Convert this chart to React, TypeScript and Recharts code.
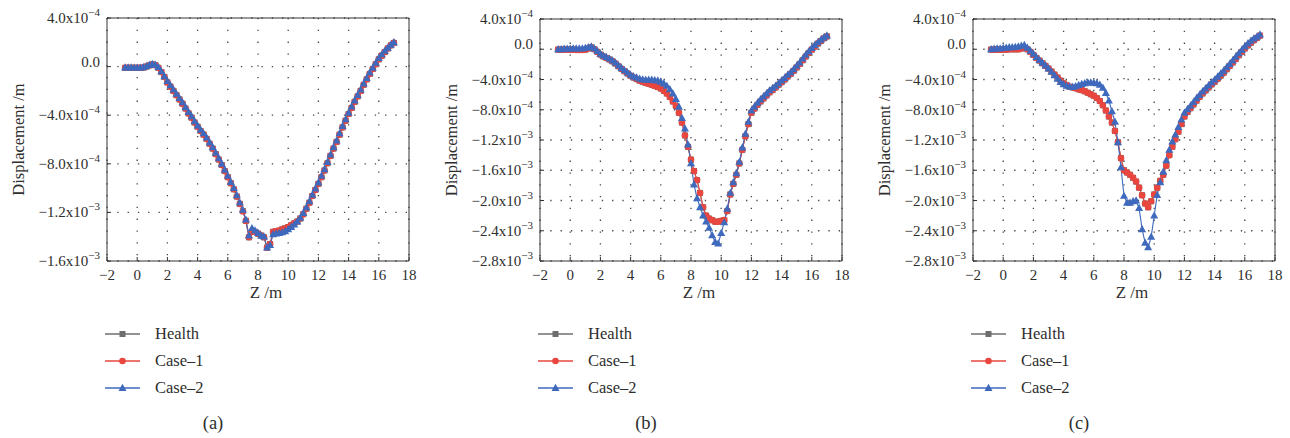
import { LineChart, Line, XAxis, YAxis, CartesianGrid, ReferenceLine, Legend } from 'recharts'

// Z positions (m) of the sampled points, shared by all three panels
const Z = [
  -0.8, -0.6, -0.4, -0.2,
  0, 0.2, 0.4, 0.6, 0.8,
  1, 1.2, 1.4, 1.6, 1.8,
  2, 2.2, 2.4, 2.6, 2.8,
  3, 3.2, 3.4, 3.6, 3.8,
  4, 4.2, 4.4, 4.6, 4.8,
  5, 5.2, 5.4, 5.6, 5.8,
  6, 6.2, 6.4, 6.6, 6.8,
  7, 7.2, 7.4, 7.6, 7.8,
  8, 8.2, 8.4, 8.6, 8.8,
  9, 9.2, 9.4, 9.6, 9.8,
  10, 10.2, 10.4, 10.6, 10.8,
  11, 11.2, 11.4, 11.6, 11.8,
  12, 12.2, 12.4, 12.6, 12.8,
  13, 13.2, 13.4, 13.6, 13.8,
  14, 14.2, 14.4, 14.6, 14.8,
  15, 15.2, 15.4, 15.6, 15.8,
  16, 16.2, 16.4, 16.6, 16.8,
  17,
]

// displacement values, in units of 1e-4 m

// (a)
const healthA = [
  -0.1, -0.1, -0.1, -0.1,
  -0.1, -0.1, -0.08, 0, 0.1,
  0.18, 0.12, -0.1, -0.45, -0.85,
  -1.3, -1.65, -2, -2.35, -2.7,
  -3.05, -3.45, -3.85, -4.2, -4.6,
  -4.95, -5.3, -5.6, -5.95, -6.35,
  -6.75, -7.2, -7.65, -8.1, -8.6,
  -9.1, -9.6, -10.1, -10.7, -11.3,
  -11.9, -12.7, -14.05, -13.6, -13.6,
  -13.75, -13.9, -14.05, -14.9, -14.6,
  -13.6, -13.55, -13.5, -13.4, -13.3,
  -13.2, -13.05, -12.9, -12.75, -12.5,
  -12.15, -11.7, -11.2, -10.65, -10.15,
  -9.65, -9.1, -8.55, -7.95, -7.35,
  -6.75, -6.2, -5.6, -5, -4.45,
  -3.9, -3.4, -2.9, -2.45, -2,
  -1.5, -1.05, -0.6, -0.2, 0.2,
  0.6, 0.9, 1.2, 1.5, 1.75,
  1.95,
]
const caseOneA = [
  -0.1, -0.1, -0.1, -0.1,
  -0.1, -0.1, -0.08, 0, 0.1,
  0.18, 0.12, -0.1, -0.45, -0.85,
  -1.3, -1.65, -2, -2.35, -2.7,
  -3.05, -3.45, -3.85, -4.2, -4.6,
  -4.95, -5.3, -5.6, -5.95, -6.35,
  -6.75, -7.2, -7.65, -8.1, -8.6,
  -9.1, -9.6, -10.1, -10.7, -11.3,
  -11.9, -12.7, -14.05, -13.6, -13.6,
  -13.75, -13.9, -14.05, -14.9, -14.6,
  -13.6, -13.55, -13.5, -13.4, -13.3,
  -13.2, -13.05, -12.9, -12.75, -12.5,
  -12.15, -11.7, -11.2, -10.65, -10.15,
  -9.65, -9.1, -8.55, -7.95, -7.35,
  -6.75, -6.2, -5.6, -5, -4.45,
  -3.9, -3.4, -2.9, -2.45, -2,
  -1.5, -1.05, -0.6, -0.2, 0.2,
  0.6, 0.9, 1.2, 1.5, 1.75,
  1.95,
]
const caseTwoA = [
  -0.08, -0.08, -0.08, -0.09,
  -0.09, -0.09, -0.06, 0.02, 0.12,
  0.2, 0.15, -0.05, -0.4, -0.8,
  -1.2, -1.55, -1.9, -2.25, -2.6,
  -2.95, -3.35, -3.75, -4.1, -4.5,
  -4.85, -5.2, -5.5, -5.85, -6.25,
  -6.65, -7.1, -7.55, -8, -8.5,
  -9, -9.5, -10, -10.6, -11.2,
  -11.8, -12.6, -13.9, -13.3, -13.5,
  -13.7, -13.9, -14, -14.9, -14.7,
  -13.8, -13.75, -13.7, -13.65, -13.55,
  -13.4, -13.2, -13, -12.75, -12.45,
  -12.05, -11.6, -11.1, -10.55, -10.05,
  -9.55, -9, -8.45, -7.85, -7.25,
  -6.65, -6.1, -5.5, -4.9, -4.35,
  -3.8, -3.3, -2.8, -2.35, -1.9,
  -1.4, -0.95, -0.5, -0.1, 0.3,
  0.7, 1, 1.3, 1.55, 1.8,
  2,
]

// (b)
const healthB = [
  -0.05, -0.05, -0.05, -0.05,
  -0.05, -0.05, -0.1, -0.1, -0.1,
  -0.05, 0.1, 0.25, 0, -0.35,
  -0.7, -0.95, -1.15, -1.35, -1.6,
  -1.9, -2.25, -2.6, -2.9, -3.2,
  -3.5, -3.75, -3.95, -4.15, -4.3,
  -4.45, -4.55, -4.7, -4.85, -5,
  -5.2, -5.5, -5.85, -6.3, -6.9,
  -7.5, -8.4, -9.7, -11.4, -12.9,
  -14.6, -16.1, -17.3, -19, -20.9,
  -22, -22.4, -22.6, -22.8, -22.8,
  -22.7, -22.6, -21.4, -19.2, -17.8,
  -16.6, -15.1, -13.3, -11.5, -9.9,
  -8.4, -7.85, -7.35, -6.9, -6.5,
  -6.1, -5.7, -5.4, -5.05, -4.7,
  -4.35, -4, -3.6, -3.25, -2.85,
  -2.4, -1.95, -1.45, -0.95, -0.5,
  -0.05, 0.35, 0.75, 1.1, 1.45,
  1.7,
]
const caseOneB = [
  -0.05, -0.05, -0.05, -0.05,
  -0.05, -0.05, -0.1, -0.1, -0.1,
  -0.05, 0.1, 0.25, 0, -0.35,
  -0.7, -0.95, -1.15, -1.35, -1.6,
  -1.9, -2.25, -2.6, -2.9, -3.2,
  -3.5, -3.75, -3.95, -4.15, -4.3,
  -4.45, -4.55, -4.7, -4.85, -5,
  -5.2, -5.5, -5.85, -6.3, -6.9,
  -7.5, -8.4, -9.7, -11.4, -12.9,
  -14.6, -16.1, -17.3, -19, -20.9,
  -22, -22.4, -22.6, -22.8, -22.8,
  -22.7, -22.6, -21.4, -19.2, -17.8,
  -16.6, -15.1, -13.3, -11.5, -9.9,
  -8.4, -7.85, -7.35, -6.9, -6.5,
  -6.1, -5.7, -5.4, -5.05, -4.7,
  -4.35, -4, -3.6, -3.25, -2.85,
  -2.4, -1.95, -1.45, -0.95, -0.5,
  -0.05, 0.35, 0.75, 1.1, 1.45,
  1.7,
]
const caseTwoB = [
  0, 0, 0.05, 0.05,
  0.05, 0.1, 0.1, 0.1, 0.1,
  0.15, 0.25, 0.35, 0.1, -0.25,
  -0.6, -0.85, -1.05, -1.25, -1.5,
  -1.8, -2.15, -2.5, -2.8, -3.1,
  -3.4, -3.6, -3.75, -3.9, -4,
  -4.05, -4.05, -4.05, -4.1, -4.15,
  -4.3, -4.55, -4.85, -5.3, -5.85,
  -6.6, -7.6, -9.1, -10.5, -12.6,
  -15.1, -17.9, -19.7, -20.9, -22,
  -22.8, -23.6, -24.6, -25.5, -25.7,
  -24.3, -22.9, -21.1, -19, -17.6,
  -16.4, -14.9, -13, -11.2, -9.6,
  -8.1, -7.6, -7.1, -6.65, -6.25,
  -5.85, -5.45, -5.15, -4.85, -4.5,
  -4.15, -3.8, -3.4, -3.05, -2.65,
  -2.2, -1.75, -1.25, -0.75, -0.3,
  0.15, 0.55, 0.9, 1.25, 1.55,
  1.8,
]

// (c)
const healthC = [
  -0.05, -0.05, -0.05, -0.05,
  -0.05, -0.05, 0, 0, 0,
  0, 0.1, 0.2, 0, -0.35,
  -0.75, -1.15, -1.5, -1.85, -2.2,
  -2.55, -2.95, -3.35, -3.75, -4.15,
  -4.5, -4.75, -4.95, -5.05, -5.15,
  -5.3, -5.4, -5.55, -5.75, -5.95,
  -6.15, -6.45, -6.85, -7.4, -8.1,
  -8.9, -9.7, -10.8, -12.3, -14.4,
  -16, -16.3, -16.6, -17, -17.5,
  -18.3, -19.3, -20.4, -20.9, -20.1,
  -19.2, -18.3, -17.4, -16.6, -15.4,
  -14, -12.9, -11.9, -10.9, -9.9,
  -8.9, -8.3, -7.8, -7.3, -6.8,
  -6.3, -5.85, -5.45, -5.05, -4.65,
  -4.3, -3.9, -3.5, -3.1, -2.65,
  -2.2, -1.75, -1.3, -0.8, -0.35,
  0.1, 0.5, 0.85, 1.2, 1.5,
  1.8,
]
const caseOneC = [
  -0.05, -0.05, -0.05, -0.05,
  -0.05, -0.05, 0, 0, 0,
  0, 0.1, 0.2, 0, -0.35,
  -0.75, -1.15, -1.5, -1.85, -2.2,
  -2.55, -2.95, -3.35, -3.75, -4.15,
  -4.5, -4.75, -4.95, -5.05, -5.15,
  -5.3, -5.4, -5.55, -5.75, -5.95,
  -6.15, -6.45, -6.85, -7.4, -8.1,
  -8.9, -9.7, -10.8, -12.3, -14.4,
  -16, -16.3, -16.6, -17, -17.5,
  -18.3, -19.3, -20.4, -20.9, -20.1,
  -19.2, -18.3, -17.4, -16.6, -15.4,
  -14, -12.9, -11.9, -10.9, -9.9,
  -8.9, -8.3, -7.8, -7.3, -6.8,
  -6.3, -5.85, -5.45, -5.05, -4.65,
  -4.3, -3.9, -3.5, -3.1, -2.65,
  -2.2, -1.75, -1.3, -0.8, -0.35,
  0.1, 0.5, 0.85, 1.2, 1.5,
  1.8,
]
const caseTwoC = [
  0, 0.05, 0.1, 0.1,
  0.15, 0.2, 0.25, 0.25, 0.3,
  0.35, 0.45, 0.55, 0.2, -0.2,
  -0.6, -1.05, -1.45, -1.8, -2.15,
  -2.55, -3, -3.45, -3.9, -4.35,
  -4.65, -4.85, -4.95, -5, -4.9,
  -4.75, -4.6, -4.5, -4.4, -4.4,
  -4.45, -4.5, -4.7, -5.1, -5.8,
  -6.8, -8.2, -9.6, -12.3, -15.6,
  -19.4, -20.3, -20.3, -20.1, -20,
  -21, -23.8, -25.6, -26.2, -24.8,
  -22, -19.3, -17.6, -16.2, -14.7,
  -13.3, -12.2, -11.3, -10.3, -9.3,
  -8.4, -7.95, -7.5, -7, -6.5,
  -6.05, -5.6, -5.2, -4.8, -4.4,
  -4.05, -3.65, -3.25, -2.85, -2.4,
  -1.95, -1.5, -1, -0.55, -0.1,
  0.35, 0.75, 1.1, 1.4, 1.65,
  1.95,
]

const X_TICKS = [-2, 0, 2, 4, 6, 8, 10, 12, 14, 16, 18]
const Y_TICKS_A = [-16, -12, -8, -4, 0, 4]
const Y_TICKS_BC = [-28, -24, -20, -16, -12, -8, -4, 0, 4]
const CAPTIONS = ['(a)', '(b)', '(c)']

const FONT = '"Liberation Serif", "DejaVu Serif", serif'
const TEXT = '#2e2e2e'
const AXIS = '#333'
const GRAY = '#6e6e6e'
const RED = '#e8463f'
const BLUE = '#3e69bd'

const SERIES = [
  { key: 'health', name: 'Health', color: GRAY },
  { key: 'case1', name: 'Case–1', color: RED },
  { key: 'case2', name: 'Case–2', color: BLUE },
]

const buildRows = (health: number[], c1: number[], c2: number[]) =>
  Z.map((z, i) => ({ z, health: health[i], case1: c1[i], case2: c2[i] }))

const PANELS = [
  { left: 0, top: 18, rows: buildRows(healthA, caseOneA, caseTwoA), yTicks: Y_TICKS_A },
  { left: 433, top: 19, rows: buildRows(healthB, caseOneB, caseTwoB), yTicks: Y_TICKS_BC },
  { left: 866, top: 19, rows: buildRows(healthC, caseOneC, caseTwoC), yTicks: Y_TICKS_BC },
]

const marker = (key: string, cx: number, cy: number, k?: any) => {
  if (key === 'health') {
    return <rect key={k} x={cx - 3} y={cy - 3} width={6} height={6} fill={GRAY} />
  }
  if (key === 'case1') {
    return <circle key={k} cx={cx} cy={cy} r={3.3} fill={RED} />
  }
  return (
    <polygon
      key={k}
      points={`${cx},${cy - 4.3} ${cx - 4},${cy + 2.9} ${cx + 4},${cy + 2.9}`}
      fill={BLUE}
    />
  )
}

const minus = (s: string) => s.replace('-', '\u2212')

function YTick(props: any) {
  const { x, y, payload } = props
  const v = payload.value as number
  if (v === 0) {
    return (
      <text x={x} y={y - 5} textAnchor="end" dominantBaseline="central" fontSize={15} fill={TEXT} fontFamily={FONT}>
        0.0
      </text>
    )
  }
  const big = Math.abs(v) >= 10
  const mant = minus((big ? v / 10 : v).toFixed(1))
  return (
    <text x={x} y={y} textAnchor="end" dominantBaseline="central" fontSize={15} fill={TEXT} fontFamily={FONT}>
      {mant}x10
      <tspan dy={-6} fontSize={11}>{big ? '\u22123' : '\u22124'}</tspan>
    </text>
  )
}

const yLabel = (p: any) => {
  const vb = p.viewBox
  const cx = vb.x + vb.width - 89
  const cy = vb.y + vb.height / 2
  return (
    <text x={cx} y={cy} transform={`rotate(-90 ${cx} ${cy})`} textAnchor="middle" dominantBaseline="central" fontSize={16.5} fill={TEXT} fontFamily={FONT}>
      Displacement /m
    </text>
  )
}

const xLabel = (p: any) => {
  const vb = p.viewBox
  return (
    <text x={vb.x + vb.width / 2 + 8} y={vb.y + 37} textAnchor="middle" fontSize={17} fill={TEXT} fontFamily={FONT}>
      Z /m
    </text>
  )
}

const renderLegend = (props: any) => {
  const payload = [...(props.payload || [])].sort(
    (a: any, b: any) =>
      SERIES.findIndex(s => s.name === a.value) - SERIES.findIndex(s => s.name === b.value)
  )
  return (
    <div style={{ fontFamily: FONT, fontSize: 16.5, color: TEXT }}>
      {payload.map((entry: any) => {
        const s = SERIES.find(ss => ss.name === entry.value) || SERIES[0]
        return (
          <div key={s.key} style={{ display: 'flex', alignItems: 'center', height: 27 }}>
            <svg width={36} height={12} style={{ marginRight: 14 }}>
              <line x1={0} y1={6} x2={35} y2={6} stroke={s.color} strokeWidth={1.3} />
              {marker(s.key, 17.5, 6)}
            </svg>
            <span>{entry.value}</span>
          </div>
        )
      })}
    </div>
  )
}

function Panel({ left, top, rows, yTicks, caption }: any) {
  return (
    <div style={{ position: 'absolute', left, top: 0, width: 433, height: 438 }}>
      <LineChart width={433} height={438} data={rows} margin={{ top, right: 24, bottom: 130, left: 0 }}>
        <CartesianGrid horizontal={false} stroke="#444" strokeWidth={1.3} strokeDasharray="1.3 10.5" />
        <CartesianGrid vertical={false} stroke="#444" strokeWidth={1.3} strokeDasharray="1.3 9" />
        <XAxis
          dataKey="z"
          type="number"
          domain={[-2, 18]}
          ticks={X_TICKS}
          interval={0}
          height={47}
          stroke={AXIS}
          tickSize={-4}
          tickMargin={12}
          tickFormatter={(v: number) => minus(String(v))}
          tick={{ fill: TEXT, fontSize: 15, fontFamily: FONT }}
          label={{ content: xLabel }}
        />
        <YAxis
          type="number"
          domain={[yTicks[0], yTicks[yTicks.length - 1]]}
          ticks={yTicks}
          interval={0}
          width={107}
          stroke={AXIS}
          tickSize={-4}
          tickMargin={11}
          tick={<YTick />}
          label={{ content: yLabel }}
        />
        <ReferenceLine x={18} stroke={AXIS} strokeWidth={1} />
        <ReferenceLine y={yTicks[yTicks.length - 1]} stroke={AXIS} strokeWidth={1} />
        {SERIES.map(s => (
          <Line
            key={s.key}
            dataKey={s.key}
            name={s.name}
            type="linear"
            stroke={s.color}
            strokeWidth={1.1}
            dot={(p: any) =>
              p.cx == null || p.cy == null ? <g key={p.index} /> : marker(s.key, p.cx, p.cy, p.index)
            }
            activeDot={false}
            isAnimationActive={false}
          />
        ))}
        <Legend
          layout="vertical"
          verticalAlign="middle"
          align="center"
          content={renderLegend}
          wrapperStyle={{ left: 105, top: 320, width: 160, height: 81 }}
        />
      </LineChart>
      <div
        style={{
          position: 'absolute',
          left: 163,
          top: 411,
          width: 100,
          textAlign: 'center',
          fontFamily: FONT,
          fontSize: 18.5,
          lineHeight: '24px',
          color: TEXT,
        }}
      >
        {caption}
      </div>
    </div>
  )
}

export default function App() {
  return (
    <div style={{ position: 'absolute', left: 0, top: 0, width: 1290, height: 438, background: '#fff', overflow: 'hidden' }}>
      {PANELS.map((p, i) => (
        <Panel key={i} {...p} caption={CAPTIONS[i]} />
      ))}
    </div>
  )
}
